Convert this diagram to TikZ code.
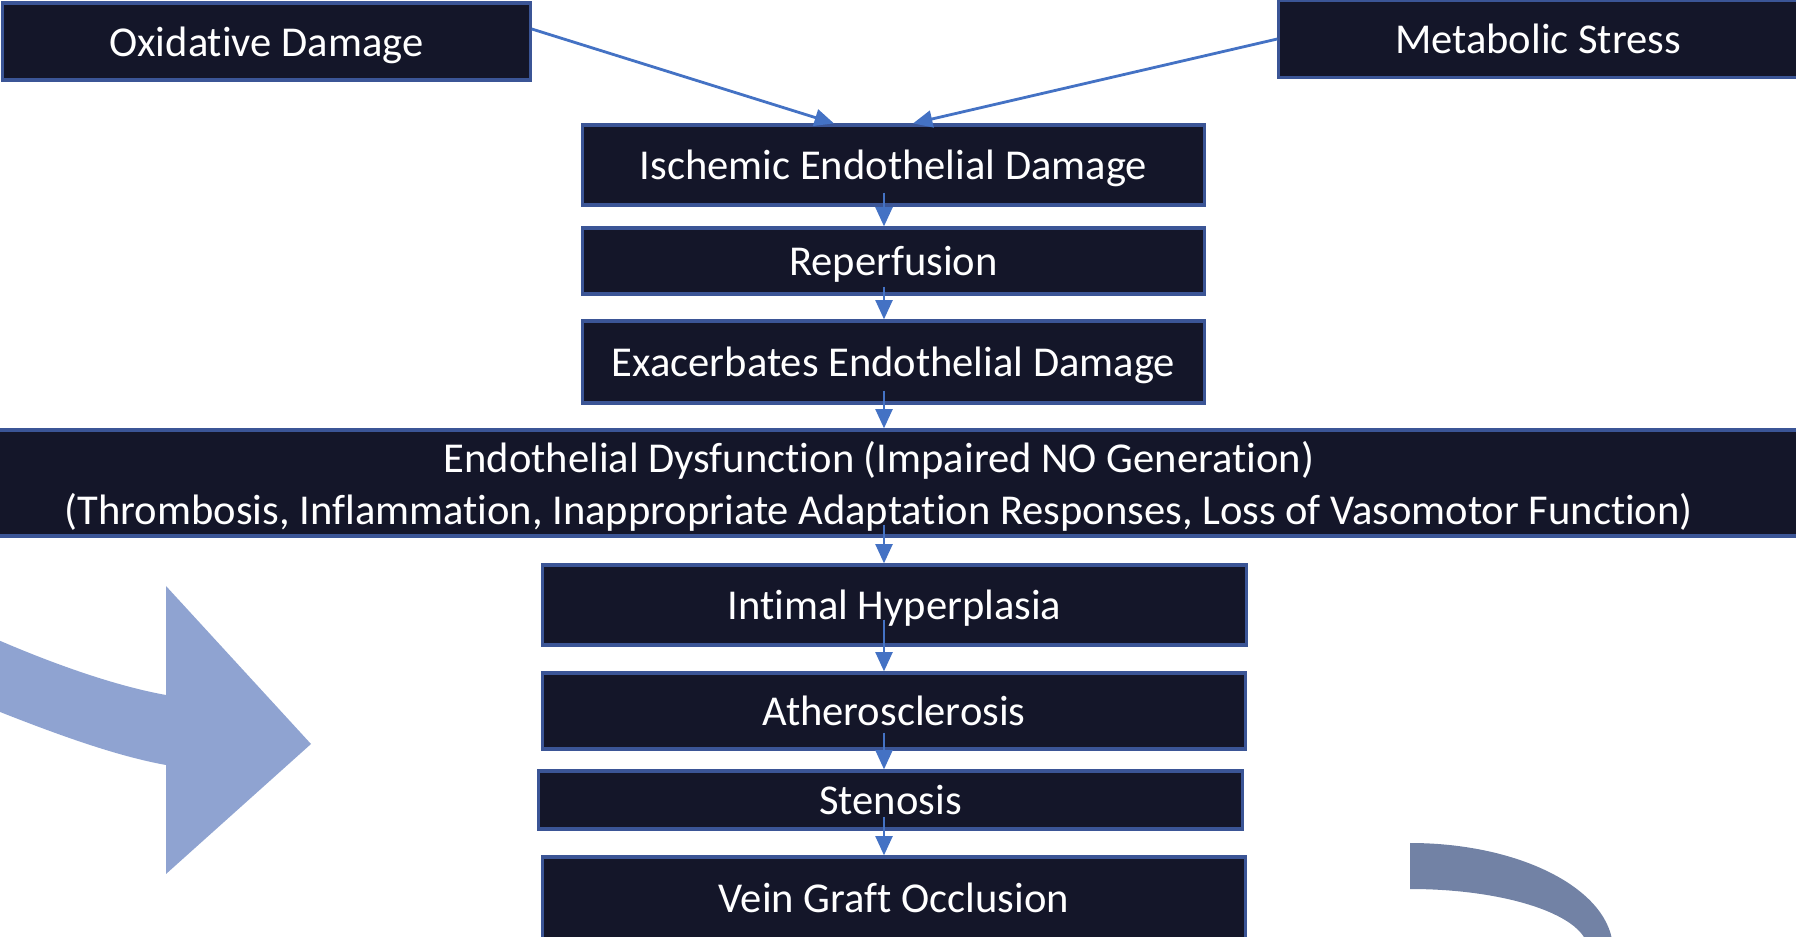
\documentclass[tikz,border=0pt]{standalone}
\usepackage{fontspec}
\setmainfont{Carlito}[Ligatures=NoCommon]
\usetikzlibrary{arrows.meta}
\definecolor{boxfill}{HTML}{141629}
\definecolor{boxline}{HTML}{3B5596}
\definecolor{linkblue}{HTML}{4472C4}
\definecolor{bigblue}{HTML}{8FA3D1}
\definecolor{bendblue}{HTML}{7282A5}
\tikzset{
  box/.style={draw=boxline,line width=0.9pt,fill=boxfill,text=white,inner sep=0pt,text depth=0pt,align=center,font=\fontsize{12.1}{14.6}\selectfont},
  link/.style={draw=linkblue,line width=0.8pt,-{Triangle[width=4.8pt,length=5.5pt]}}
}
\begin{document}
\begin{tikzpicture}[x=0.01cm,y=-0.01cm]
  \useasboundingbox (0,0) rectangle (1796,937);
  \begin{scope}
    \clip (0,0) rectangle (1796,937);
    %big arrows
    \fill[bigblue] (-20,632) .. controls (40,659) and (110,685) .. (166,695) -- (166,586) -- (311,744) -- (166,874) -- (166,765) .. controls (110,755) and (40,728) .. (-20,704) -- cycle;
    \begin{scope}
      \clip (1410,800) rectangle (1796,937);
      \fill[bendblue,even odd rule] (1410,950) ellipse [x radius=203,y radius=107] (1410,950) ellipse [x radius=178,y radius=61];
    \end{scope}
    %boxes
    \node[box,minimum width=5.27cm,minimum height=0.77cm] (oxid) at (266.5,41.5) {Oxidative Damage};
    \node[box,minimum width=5.18cm,minimum height=0.77cm] (metab) at (1538,39) {Metabolic Stress};
    \node[box,minimum width=6.21cm,minimum height=0.80cm] (isch) at (893.5,165) {Ischemic Endothelial Damage};
    \node[box,minimum width=6.21cm,minimum height=0.66cm] (reper) at (893.5,261) {Reperfusion};
    \node[box,minimum width=6.21cm,minimum height=0.82cm] (exac) at (893.5,362) {Exacerbates Endothelial Damage};
    \node[box,minimum width=18.5cm,minimum height=1.06cm] (endo) at (879,483) {Endothelial Dysfunction (Impaired NO Generation)\\(Thrombosis, Inflammation, Inappropriate Adaptation Responses, Loss of Vasomotor Function)};
    \node[box,minimum width=7.03cm,minimum height=0.80cm] (intim) at (894.5,605) {Intimal Hyperplasia};
    \node[box,minimum width=7.02cm,minimum height=0.76cm] (ather) at (894,711) {Atherosclerosis};
    \node[box,minimum width=7.03cm,minimum height=0.58cm] (sten) at (890.5,800) {Stenosis};
    \node[box,minimum width=7.02cm,minimum height=0.82cm] (vein) at (894,898) {Vein Graft Occlusion};
  \end{scope}
  \coordinate (spine) at (884,0);
  %arrows
  \draw[link] ([yshift=0.125cm]oxid.east) -- ([xshift=-0.595cm]isch.north);
  \draw[link] (metab.west) -- ([xshift=0.195cm]isch.north);
  \draw[link] ([yshift=0.14cm]isch.south -| spine) -- (reper.north -| spine);
  \draw[link] ([yshift=0.09cm]reper.south -| spine) -- (exac.north -| spine);
  \draw[link] ([yshift=0.14cm]exac.south -| spine) -- (endo.north -| spine);
  \draw[link] ([yshift=0.13cm]endo.south -| spine) -- (intim.north -| spine);
  \draw[link] ([yshift=0.27cm]intim.south -| spine) -- (ather.north -| spine);
  \draw[link] ([yshift=0.18cm]ather.south -| spine) -- (sten.north -| spine);
  \draw[link] ([yshift=0.14cm]sten.south -| spine) -- (vein.north -| spine);
\end{tikzpicture}
\end{document}
